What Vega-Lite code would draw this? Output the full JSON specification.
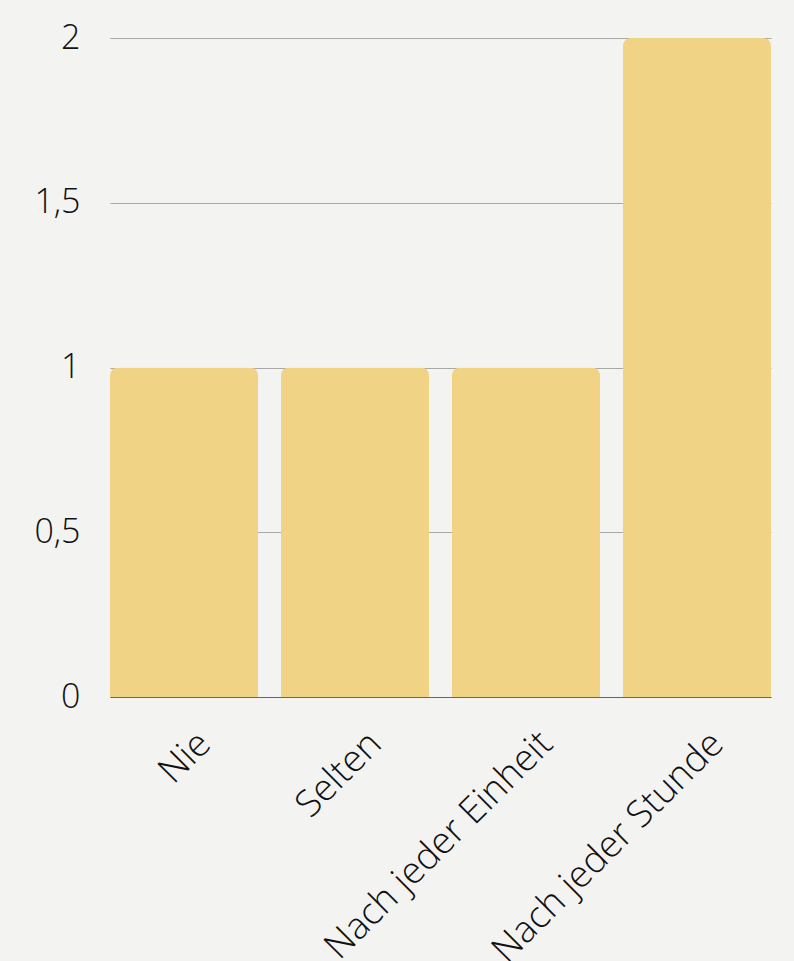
{
  "$schema": "https://vega.github.io/schema/vega-lite/v6.json",
  "width": 661,
  "height": 659,
  "autosize": {"type": "none"},
  "padding": {"left": 110, "top": 38, "right": 23, "bottom": 264},
  "background": "#f3f4f2",
  "data": {
    "values": [
      {"kategorie": "Nie", "anzahl": 1},
      {"kategorie": "Selten", "anzahl": 1},
      {"kategorie": "Nach jeder Einheit", "anzahl": 1},
      {"kategorie": "Nach jeder Stunde", "anzahl": 2}
    ]
  },
  "config": {
    "view": {"stroke": null},
    "font": "Open Sans",
    "axis": {
      "labelFont": "Open Sans",
      "labelFontWeight": 300,
      "labelFontSize": 34,
      "labelColor": "#111111",
      "labelLimit": 0,
      "title": null
    }
  },
  "mark": {"type": "bar", "color": "#f0d384", "cornerRadiusTopLeft": 8, "cornerRadiusTopRight": 8},
  "encoding": {
    "x": {
      "field": "kategorie",
      "type": "nominal",
      "sort": null,
      "scale": {"paddingInner": 0.134, "paddingOuter": 0},
      "axis": {
        "labelAngle": -45,
        "labelFontSize": 37,
        "ticks": false,
        "domain": true,
        "domainColor": "#666666",
        "domainWidth": 1,
        "labelPadding": 28,
        "labelOffset": 8,
        "labelOverlap": false
      }
    },
    "y": {
      "field": "anzahl",
      "type": "quantitative",
      "scale": {"domain": [0, 2], "nice": false},
      "axis": {
        "values": [0, 0.5, 1, 1.5, 2],
        "format": ",.1~f",
        "labelExpr": "replace(datum.label, '.', ',')",
        "ticks": false,
        "domain": false,
        "grid": true,
        "gridColor": "#a8a8a8",
        "gridWidth": 1,
        "labelPadding": 30
      }
    }
  }
}
